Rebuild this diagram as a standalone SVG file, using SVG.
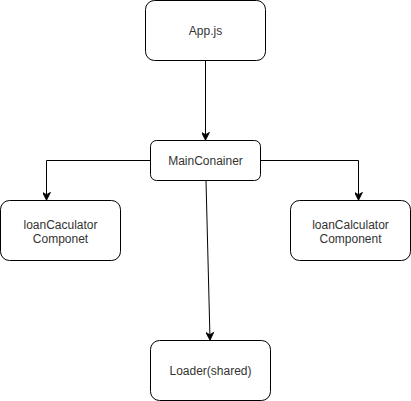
<svg xmlns="http://www.w3.org/2000/svg" width="411" height="401" viewBox="0 0 411 401">
<defs>
<style>
.box{fill:#fff;stroke:#000;stroke-width:1}
.lbl{font-family:"Liberation Sans",Arial,sans-serif;font-size:12px;fill:#333;text-anchor:middle}
.edge{fill:none;stroke:#000;stroke-width:1}
</style>
<marker id="arr" viewBox="0 0 10 10" refX="9" refY="5" markerWidth="8" markerHeight="8" markerUnits="userSpaceOnUse" orient="auto">
<path d="M0,0 L10,5 L0,10 L3,5 Z" fill="#000" stroke="#000"/>
</marker>
</defs>
<rect width="411" height="401" fill="#fff"/>
<g id="connectors">
<path class="edge" d="M205.5,60.5 V139.5" marker-end="url(#arr)"/>
<path class="edge" d="M150.5,160.5 H46.5 V199.5" marker-end="url(#arr)"/>
<path class="edge" d="M260.5,160.5 H358.5 V199.5" marker-end="url(#arr)"/>
<path class="edge" d="M206,180.5 L210,339.5" marker-end="url(#arr)"/>
</g>
<g id="app">
<rect class="box" x="145.5" y="0.5" width="120" height="60" rx="9"/>
<text class="lbl" x="205.5" y="35">App.js</text>
</g>
<g id="main">
<rect class="box" x="150.5" y="140.5" width="110" height="40" rx="6"/>
<text class="lbl" x="205.5" y="165">MainConainer</text>
</g>
<g id="left">
<rect class="box" x="0.5" y="200.5" width="120" height="60" rx="9"/>
<text class="lbl" x="60.5" y="229">loanCaculator</text>
<text class="lbl" x="60.5" y="243">Componet</text>
</g>
<g id="right">
<rect class="box" x="290.5" y="200.5" width="120" height="60" rx="9"/>
<text class="lbl" x="350.5" y="229">loanCalculator</text>
<text class="lbl" x="350.5" y="243">Component</text>
</g>
<g id="loader">
<rect class="box" x="150.5" y="340.5" width="120" height="60" rx="9"/>
<text class="lbl" x="210.5" y="375">Loader(shared)</text>
</g>
</svg>
